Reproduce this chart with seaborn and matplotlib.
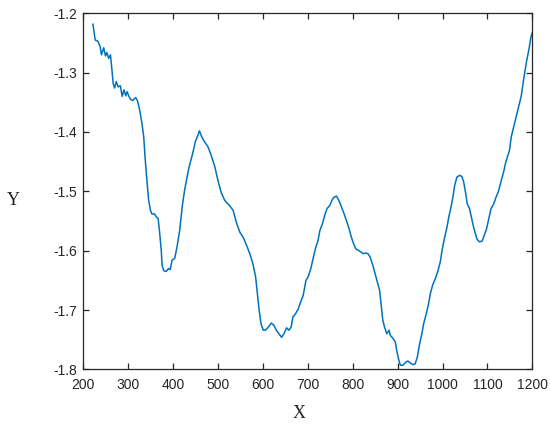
import pandas as pd
import matplotlib
matplotlib.use("Agg")
import matplotlib.pyplot as plt
import seaborn as sns

x_vals = [222, 227, 233, 238, 241, 246, 250, 253, 257, 261, 264, 267, 270, 274, 278, 283, 287, 291, 295, 298,
          302, 306, 310, 313, 317, 321, 326, 331, 335, 338, 342, 346, 350, 353, 359, 363, 367, 370, 374, 376,
          380, 385, 390, 394, 398, 404, 409, 415, 421, 426, 433, 437, 444, 450, 456, 459, 464, 470, 478, 485,
          493, 500, 507, 515, 526, 534, 541, 549, 556, 564, 571, 578, 584, 588, 592, 596, 601, 606, 612, 619,
          625, 630, 636, 642, 647, 653, 658, 663, 667, 673, 679, 684, 690, 696, 701, 707, 712, 718, 723, 727,
          733, 738, 743, 749, 754, 758, 764, 769, 775, 781, 786, 792, 797, 802, 807, 812, 818, 823, 829, 834,
          839, 845, 850, 856, 860, 864, 867, 871, 876, 881, 884, 890, 895, 898, 902, 906, 912, 918, 923, 928,
          934, 939, 944, 949, 954, 958, 964, 969, 973, 978, 984, 989, 995, 999, 1004, 1010, 1014, 1019, 1023, 1027,
          1032, 1038, 1043, 1047, 1051, 1055, 1060, 1064, 1069, 1073, 1077, 1082, 1088, 1093, 1098, 1103, 1108, 1114, 1119, 1124,
          1130, 1136, 1141, 1149, 1153, 1164, 1175, 1182, 1187, 1192, 1197, 1200]

y_vals = [-1.218, -1.245, -1.247, -1.256, -1.270, -1.258, -1.272, -1.266, -1.276, -1.270, -1.293, -1.318, -1.326, -1.315, -1.324, -1.322, -1.340, -1.329, -1.339, -1.332,
          -1.340, -1.345, -1.347, -1.345, -1.342, -1.347, -1.363, -1.385, -1.408, -1.442, -1.481, -1.515, -1.532, -1.538, -1.538, -1.543, -1.546, -1.566, -1.599, -1.625,
          -1.634, -1.635, -1.630, -1.632, -1.616, -1.613, -1.594, -1.566, -1.524, -1.498, -1.470, -1.456, -1.436, -1.416, -1.405, -1.398, -1.408, -1.416, -1.425, -1.439,
          -1.458, -1.481, -1.501, -1.515, -1.524, -1.532, -1.552, -1.569, -1.577, -1.591, -1.605, -1.622, -1.644, -1.672, -1.701, -1.723, -1.734, -1.734, -1.729, -1.722,
          -1.726, -1.734, -1.740, -1.746, -1.740, -1.730, -1.734, -1.729, -1.712, -1.706, -1.698, -1.687, -1.675, -1.650, -1.644, -1.630, -1.613, -1.594, -1.583, -1.566,
          -1.554, -1.540, -1.529, -1.524, -1.515, -1.510, -1.508, -1.515, -1.526, -1.538, -1.549, -1.563, -1.577, -1.588, -1.597, -1.599, -1.602, -1.605, -1.604, -1.605,
          -1.611, -1.625, -1.639, -1.656, -1.667, -1.695, -1.717, -1.729, -1.740, -1.734, -1.743, -1.748, -1.754, -1.768, -1.782, -1.793, -1.793, -1.788, -1.786, -1.789,
          -1.792, -1.791, -1.779, -1.757, -1.740, -1.723, -1.706, -1.689, -1.672, -1.658, -1.647, -1.636, -1.619, -1.599, -1.580, -1.560, -1.543, -1.526, -1.510, -1.490,
          -1.476, -1.473, -1.475, -1.484, -1.501, -1.521, -1.529, -1.543, -1.560, -1.571, -1.581, -1.585, -1.584, -1.574, -1.563, -1.546, -1.529, -1.521, -1.510, -1.501,
          -1.484, -1.467, -1.450, -1.431, -1.408, -1.374, -1.340, -1.304, -1.281, -1.262, -1.239, -1.232]

x_ticks = [200, 300, 400, 500, 600, 700, 800, 900, 1000, 1100, 1200]
y_ticks = [-1.8, -1.7, -1.6, -1.5, -1.4, -1.3, -1.2]

sns.set_style("ticks")
plt.rcParams['font.family'] = ['Liberation Sans', 'DejaVu Sans']

df = pd.DataFrame({"X": x_vals, "Y": y_vals})

fig = plt.figure(figsize=(5.5, 4.29), dpi=100)
ax = fig.add_axes([0.151, 0.139, 0.817, 0.83])
sns.lineplot(data=df, x="X", y="Y", ax=ax, color="#0072BD", linewidth=1.1,
             estimator=None, sort=False)

ax.set_xlim(200, 1200)
ax.set_ylim(-1.8, -1.2)
ax.set_xticks(x_ticks)
ax.set_yticks(y_ticks)
ax.set_xticklabels([str(t) for t in x_ticks])
ax.set_yticklabels([f"{t:.1f}" for t in y_ticks])

for s in ax.spines.values():
    s.set_visible(True)
    s.set_color("#262626")
    s.set_linewidth(0.9)
ax.tick_params(direction="in", length=4, width=0.9, color="#262626",
               top=True, right=True, labelsize=10, labelcolor="#262626")
ax.tick_params(axis="x", pad=6)
ax.tick_params(axis="y", pad=4)

ax.set_xlabel("X", family="Liberation Serif", fontsize=13, color="#222222")
ax.set_ylabel("Y", family="Liberation Serif", fontsize=13, color="#222222", rotation=0)
ax.xaxis.set_label_coords(0.48, -0.10)
ax.yaxis.set_label_coords(-0.155, 0.45)

fig.savefig("out.png", dpi=100)
